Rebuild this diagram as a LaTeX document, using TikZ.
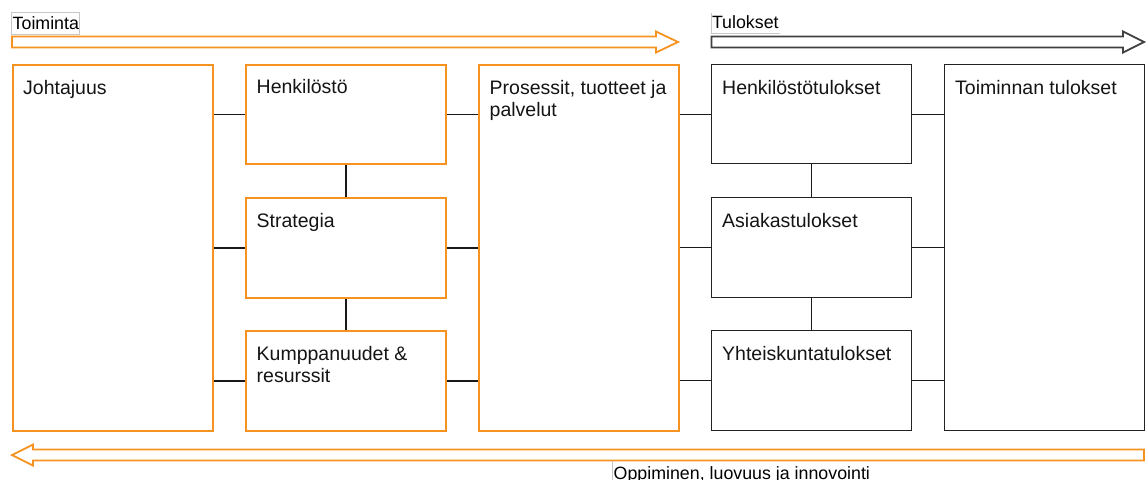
\documentclass[tikz,border=0pt]{standalone}
\usepackage{fontspec}
\setmainfont{Liberation Sans}
\definecolor{actorange}{RGB}{246,146,32}
\definecolor{resdark}{RGB}{34,34,34}
\definecolor{flowdark}{RGB}{64,64,64}
\begin{document}
\begin{tikzpicture}[x=1pt,y=-1pt,
  box/.style={rectangle, inner sep=0pt, anchor=north west, minimum width=200pt},
  actbox/.style={box, draw=actorange, line width=1.9pt},
  resbox/.style={box, draw=resdark, line width=1.4pt},
  boxtext/.style={anchor=base west, inner sep=0pt, align=left,
    font=\fontsize{19.5}{22.5}\selectfont, text=black!92},
  link/.style={draw=black!90, line width=1.2pt},
  caption/.style={anchor=base west, inner sep=0pt,
    font=\fontsize{17.8}{20}\selectfont, text=black},
  capframe/.style={draw=black!22, line width=0.8pt},
  flowarrow/.style={line width=1.8pt, line join=miter, fill=white}
]
\useasboundingbox (0,0) rectangle (1147,479);
\clip (0,0) rectangle (1147,479);

% flow arrows
\draw[flowarrow, draw=actorange]
  (12,36.5) -- (656,36.5) -- (656,31.5) -- (678,42) -- (656,52.5) -- (656,47.5) -- (12,47.5) -- cycle;
\draw[flowarrow, draw=flowdark]
  (711.5,36.5) -- (1123,36.5) -- (1123,31.5) -- (1144,42) -- (1123,52.5) -- (1123,47.5) -- (711.5,47.5) -- cycle;
\draw[flowarrow, draw=actorange]
  (1144,449.5) -- (33,449.5) -- (33,444.5) -- (12,455) -- (33,465.5) -- (33,460.5) -- (1144,460.5) -- cycle;

% captions
\draw[capframe] (11.7,12) rectangle (79,34);
\node[caption] (cact) at (12.5,29.3) {Toiminta};
\draw[capframe] (711,13) -- (711,33) -- (780,33);
\node[caption] (cres) at (711.8,28.3) {Tulokset};
\draw[capframe] (612,461) -- (612,480);
\node[caption] (clrn) at (613.5,479.6) {Oppiminen, luovuus ja innovointi};

% enablers
\node[actbox, minimum height=366pt] (joh) at (12,64) {};
\node[actbox, minimum height=99pt]  (hen) at (245,64) {};
\node[actbox, minimum height=100pt] (str) at (245,197) {};
\node[actbox, minimum height=100pt] (kum) at (245,330) {};
\node[actbox, minimum height=366pt] (pro) at (478,64) {};

% results
\node[resbox, minimum height=99pt]  (htu) at (711,64) {};
\node[resbox, minimum height=100pt] (atu) at (711,197) {};
\node[resbox, minimum height=100pt] (ytu) at (711,330) {};
\node[resbox, minimum height=366pt] (ttu) at (944,64) {};

% box texts (base anchor of a two-line text sits on its second line)
\node[boxtext] (tjoh) at ([shift={(11,30)}]joh.north west) {Johtajuus};
\node[boxtext] (then) at ([shift={(11.5,29.5)}]hen.north west) {Henkilöstö};
\node[boxtext] (tstr) at ([shift={(11.5,30)}]str.north west) {Strategia};
\node[boxtext] (tkum) at ([shift={(11.5,52.5)}]kum.north west) {Kumppanuudet \&\\resurssit};
\node[boxtext] (tpro) at ([shift={(11.5,52.5)}]pro.north west) {Prosessit, tuotteet ja\\palvelut};
\node[boxtext] (thtu) at ([shift={(11,30)}]htu.north west) {Henkilöstötulokset};
\node[boxtext] (tatu) at ([shift={(11,30)}]atu.north west) {Asiakastulokset};
\node[boxtext] (tytu) at ([shift={(11,30)}]ytu.north west) {Yhteiskuntatulokset};
\node[boxtext] (tttu) at ([shift={(11,30)}]ttu.north west) {Toiminnan tulokset};

% connectors
\foreach \b in {hen,str,kum}{
  \draw[link] (\b.west) -- (\b.west -| joh.east);
  \draw[link] (\b.east) -- (\b.east -| pro.west);
}
\foreach \b in {htu,atu,ytu}{
  \draw[link] (\b.west) -- (\b.west -| pro.east);
  \draw[link] (\b.east) -- (\b.east -| ttu.west);
}
\draw[link] (hen.south) -- (str.north);
\draw[link] (str.south) -- (kum.north);
\draw[link] (htu.south) -- (atu.north);
\draw[link] (atu.south) -- (ytu.north);
\end{tikzpicture}
\end{document}
